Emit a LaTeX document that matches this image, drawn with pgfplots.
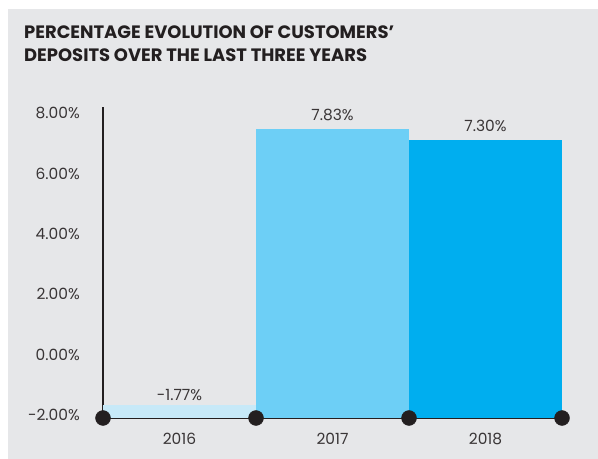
\documentclass[border=0pt]{standalone}
\usepackage{pgfplots}
\pgfplotsset{compat=1.18}
\usepackage{fontspec}
\setmainfont{Poppins}
\definecolor{bg}{HTML}{E6E7E9}
\definecolor{txt}{HTML}{231F20}
\definecolor{c16}{HTML}{C7E9F8}
\definecolor{c17}{HTML}{6DCFF6}
\definecolor{c18}{HTML}{00AEEF}
\begin{document}
\begin{tikzpicture}
\path[use as bounding box] (0bp,0bp) rectangle (598bp,459bp);
\fill[bg] (8bp,0bp) rectangle (598bp,450bp);
\node[anchor=base west, inner sep=0pt, text=txt, font=\fontsize{18}{18}\selectfont\bfseries] at (24bp,420bp) {PERCENTAGE EVOLUTION OF CUSTOMERS’};
\node[anchor=base west, inner sep=0pt, text=txt, font=\fontsize{18}{18}\selectfont\bfseries] at (24bp,397bp) {DEPOSITS OVER THE LAST THREE YEARS};
\begin{axis}[
  at={(103bp,41bp)}, anchor=south west,
  x=153bp, y=30.2bp,
  xmin=-0.5, xmax=2.5, ymin=0, ymax=10.3,
  y filter/.expression={y+2},
  clip=false,
  axis x line*=bottom, axis y line*=left,
  axis line style={-, draw=txt, line width=1.2bp},
  major tick length=0pt,
  xtick={0,1,2}, xticklabels={2016,2017,2018},
  ytick={0,2,4,6,8,10},
  yticklabels={-2.00\%,0.00\%,2.00\%,4.00\%,6.00\%,8.00\%},
  tick label style={font=\fontsize{15.5}{15.5}\selectfont, text=txt!90},
  yticklabel style={anchor=east, inner sep=0pt, xshift=-23bp, yshift=3bp},
  xticklabel style={anchor=north, inner sep=0pt, yshift=-15bp},
  nodes near coords,
  point meta=explicit symbolic,
  every node near coord/.append style={font=\fontsize{15.5}{15.5}\selectfont, text=txt!90, anchor=south, inner sep=0pt},
]
\addplot[ybar, bar width=153bp, bar shift=0pt, fill=c16, draw=none,
  every node near coord/.append style={yshift=4bp}] coordinates {(0,-1.57) [-1.77\%]};
\addplot[ybar, bar width=153bp, bar shift=0pt, fill=c17, draw=none,
  every node near coord/.append style={yshift=8bp}] coordinates {(1,7.57) [7.83\%]};
\addplot[ybar, bar width=153bp, bar shift=0pt, fill=c18, draw=none,
  every node near coord/.append style={yshift=8bp}] coordinates {(2,7.2) [7.30\%]};
\addplot[only marks, mark=*, mark size=7.5bp, color=txt, nodes near coords={}] coordinates {(-0.5,-2) (0.5,-2) (1.5,-2) (2.5,-2)};
\end{axis}
\end{tikzpicture}
\end{document}
